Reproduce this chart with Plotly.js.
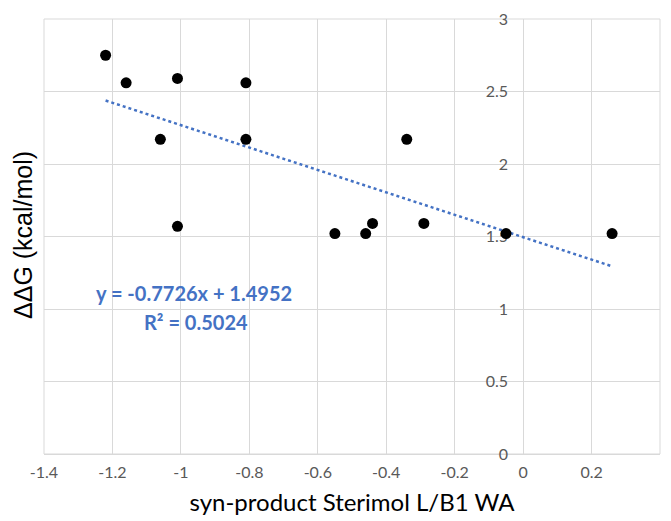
<!DOCTYPE html>
<html>
<head>
<meta charset="utf-8">
<script src="https://cdn.plot.ly/plotly-3.0.1.min.js"></script>
<style>html,body{margin:0;padding:0;background:#fff;}#chart{width:671px;height:521px;}</style>
</head>
<body>
<div id="chart"></div>
<script>
// Data
const sterimolX = [-1.22, -1.16, -1.01, -0.81, -1.06, -0.81, -1.01, -0.55, -0.46, -0.44, -0.34, -0.29, -0.05, 0.26];
const ddG = [2.75, 2.56, 2.59, 2.56, 2.17, 2.17, 1.57, 1.52, 1.52, 1.59, 2.17, 1.59, 1.52, 1.52];
const trendSlope = -0.7726;
const trendIntercept = 1.4952;
const rSquared = 0.5024;
const xTickVals = [-1.4, -1.2, -1, -0.8, -0.6, -0.4, -0.2, 0, 0.2, 0.4];
const xTickText = ['-1.4', '-1.2', '-1', '-0.8', '-0.6', '-0.4', '-0.2', '0', '0.2', '0.4'];
const yTickVals = [0, 0.5, 1, 1.5, 2, 2.5, 3];
const yTickText = ['0', '0.5', '1', '1.5', '2', '2.5', '3'];

const xMin = Math.min(...sterimolX), xMax = Math.max(...sterimolX);
const trendX = [xMin, xMax];
const trendY = trendX.map(v => trendSlope * v + trendIntercept);

const xRange = [-1.4, 0.4];
const yAxisPos = (0 - xRange[0]) / (xRange[1] - xRange[0]);

const FONT = 'Lato, "Open Sans", sans-serif';
const TITLEY_FONT = '"Liberation Sans", Arial, sans-serif';
const grid = '#d9d9d9';

const traces = [
  {
    x: trendX, y: trendY, type: 'scatter', mode: 'lines',
    line: {color: '#4472C4', width: 2.5, dash: 'dot'},
    hoverinfo: 'skip', showlegend: false
  },
  {
    x: sterimolX, y: ddG, type: 'scatter', mode: 'markers',
    marker: {color: '#000000', size: 11},
    showlegend: false
  }
];

const layout = {
  width: 671, height: 521,
  margin: {l: 44, r: 11, t: 19, b: 67},
  paper_bgcolor: '#ffffff', plot_bgcolor: '#ffffff',
  font: {family: FONT, color: '#595959'},
  showlegend: false,
  xaxis: {
    range: xRange, tickvals: xTickVals, ticktext: xTickText,
    showgrid: true, gridcolor: grid, gridwidth: 1,
    zeroline: true, zerolinecolor: grid, zerolinewidth: 1,
    showline: false, ticks: '', ticklabelstandoff: 7,
    tickfont: {family: FONT, size: 16, color: '#595959'},
    title: {text: 'syn-product Sterimol L/B1 WA', standoff: 14,
            font: {family: FONT, size: 24, color: '#000000'}},
    fixedrange: true, layer: 'below traces'
  },
  yaxis: {
    range: [0, 3], tickvals: yTickVals, ticktext: yTickText,
    anchor: 'free', position: yAxisPos,
    showgrid: true, gridcolor: grid, gridwidth: 1,
    zeroline: true, zerolinecolor: grid, zerolinewidth: 1,
    showline: false, ticks: '', ticklabelstandoff: 15,
    tickfont: {family: FONT, size: 16, color: '#595959'},
    fixedrange: true, layer: 'below traces'
  },
  shapes: [
    {type: 'rect', xref: 'paper', yref: 'paper', x0: 0, x1: 1, y0: 0, y1: 1,
     line: {color: grid, width: 1}, layer: 'below'}
  ],
  annotations: [
    {
      xref: 'paper', yref: 'paper', x: (23 - 44) / 616, y: (454 - 235) / 435,
      xanchor: 'center', yanchor: 'middle',
      text: 'ΔΔG (kcal/mol)', textangle: -90, showarrow: false,
      font: {family: TITLEY_FONT, size: 25, color: '#000000'}
    },
    {
      xref: 'x', yref: 'y', x: -0.961, y: 1.11, xanchor: 'center', yanchor: 'middle',
      text: '<b>y = ' + trendSlope + 'x + ' + trendIntercept + '</b>',
      showarrow: false,
      font: {family: FONT, size: 20, color: '#4472C4'}
    },
    {
      xref: 'x', yref: 'y', x: -0.955, y: 0.91, xanchor: 'center', yanchor: 'middle',
      text: '<b>R² = ' + rSquared + '</b>',
      showarrow: false,
      font: {family: FONT, size: 20, color: '#4472C4'}
    }
  ]
};

Plotly.newPlot('chart', traces, layout, {displayModeBar: false, staticPlot: true});
</script>
</body>
</html>
